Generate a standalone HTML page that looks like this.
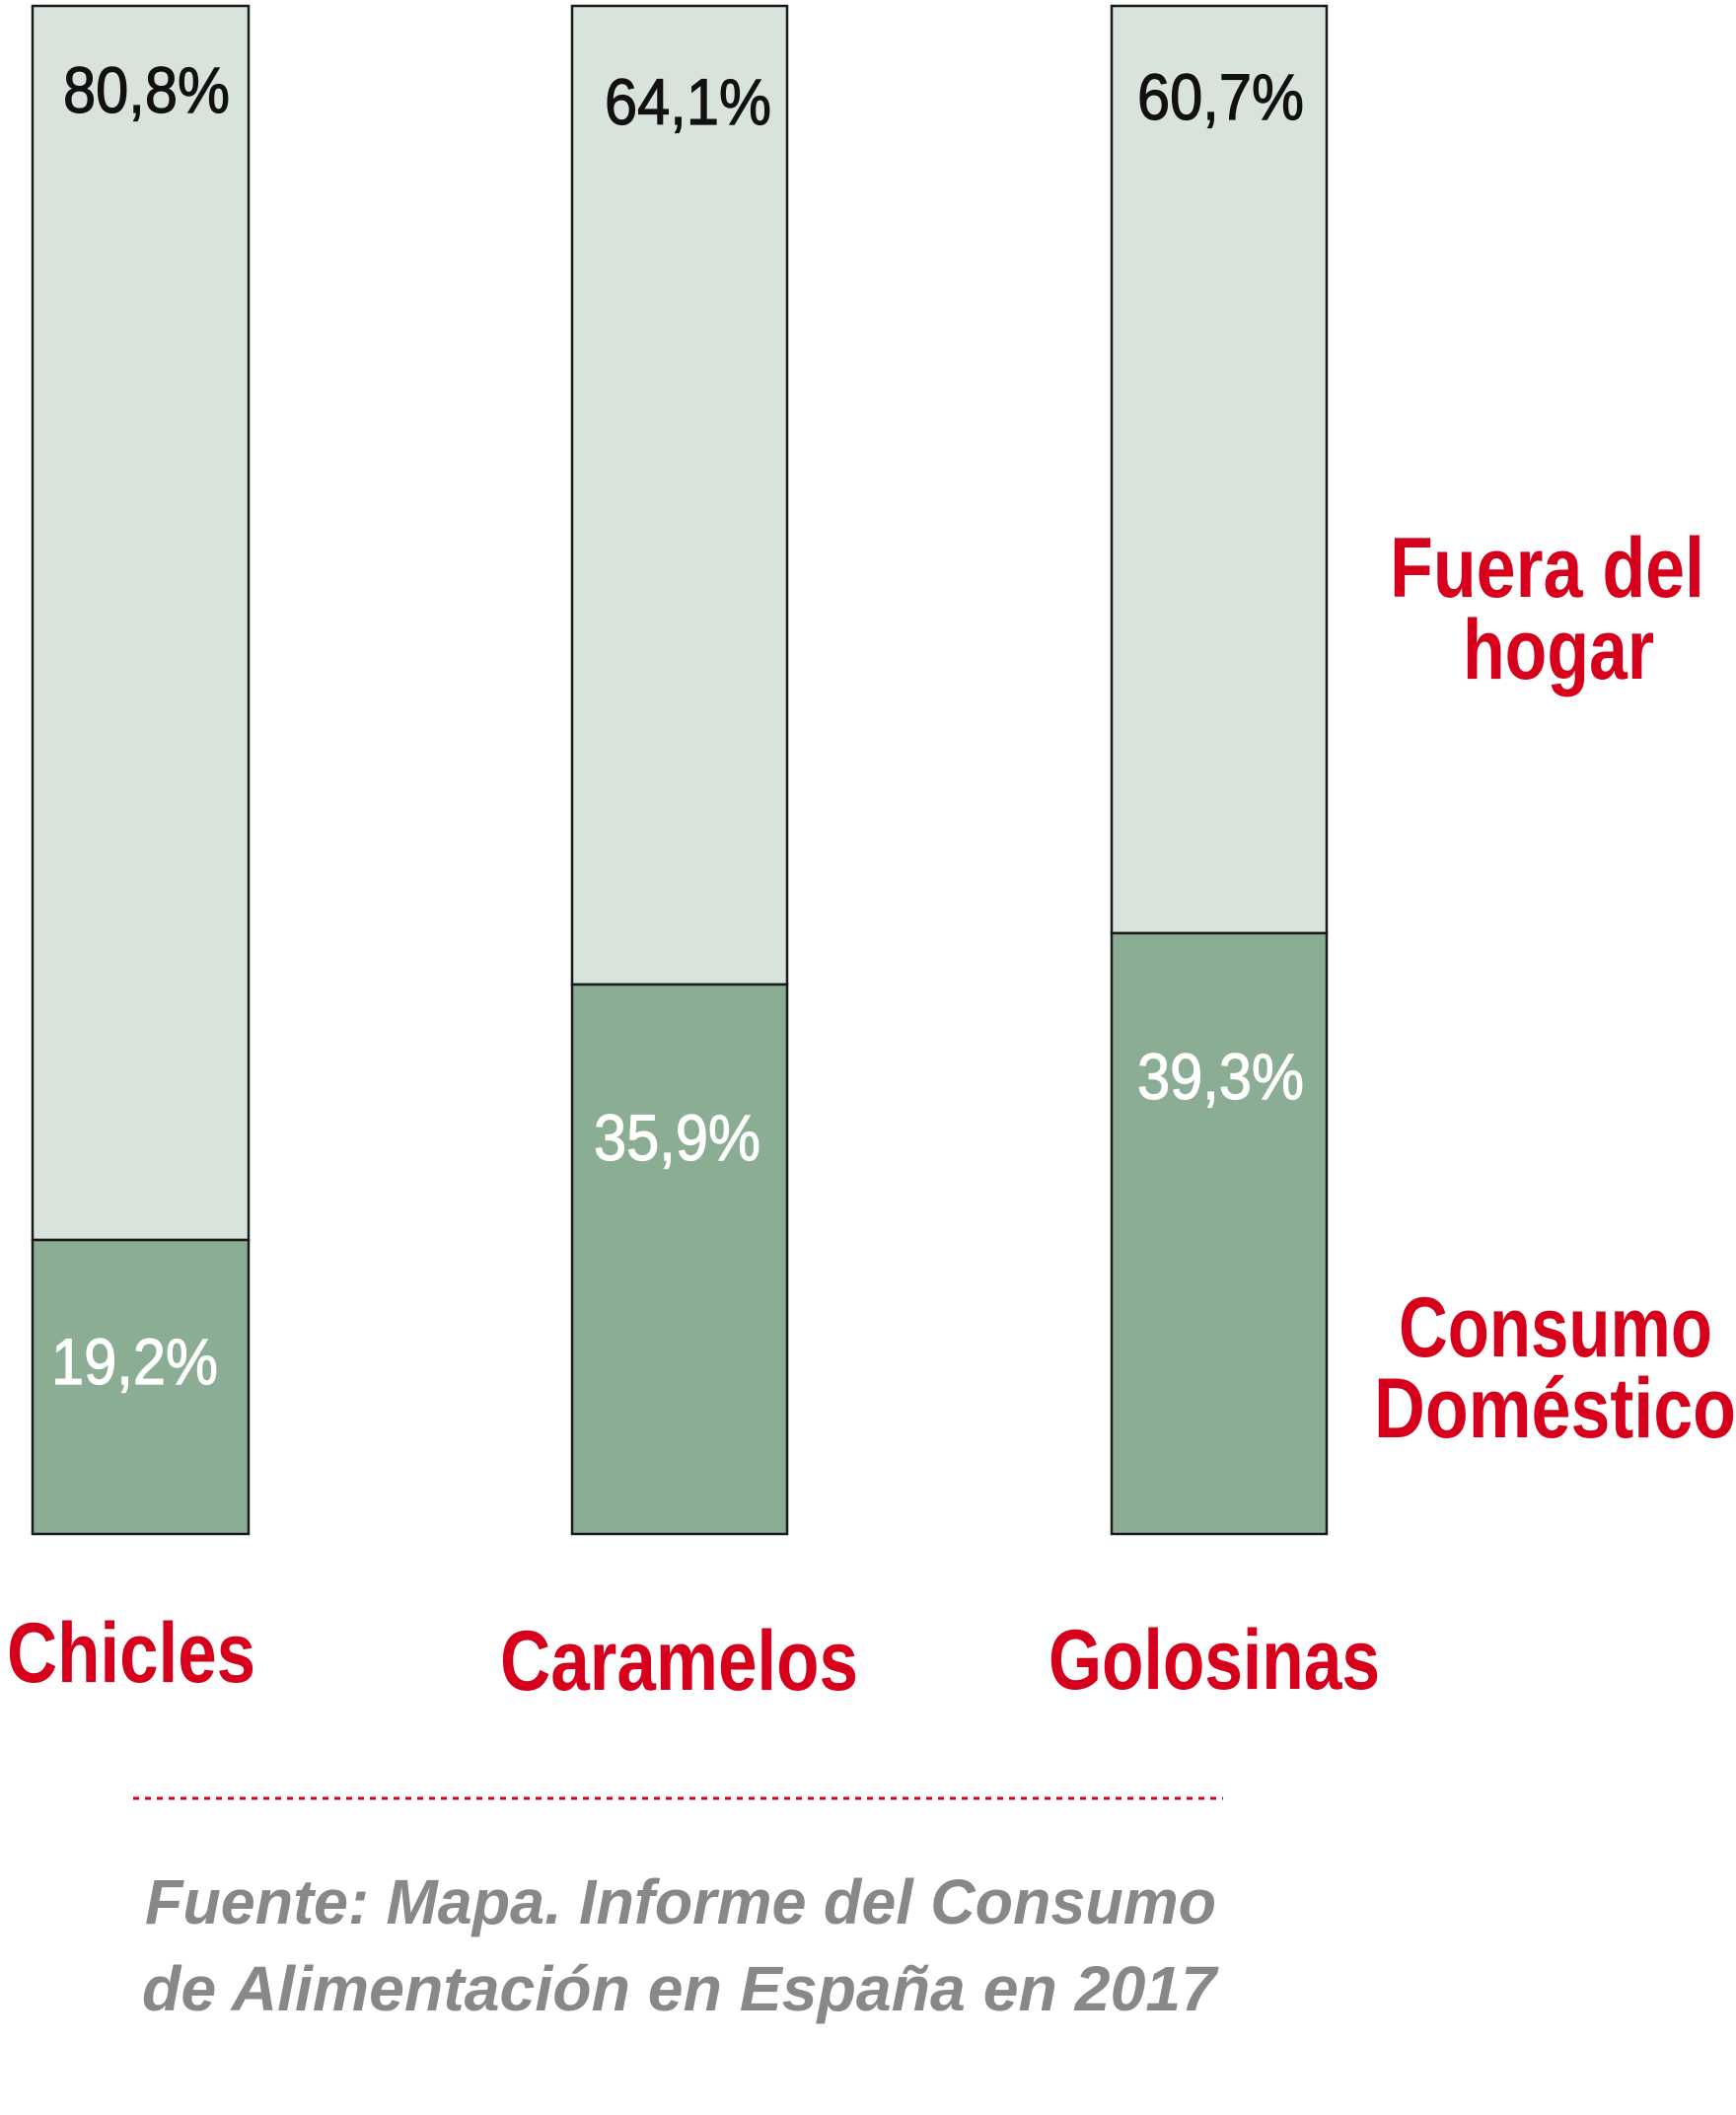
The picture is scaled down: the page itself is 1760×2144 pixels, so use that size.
<!DOCTYPE html>
<html><head><meta charset="utf-8"><style>
html,body{margin:0;padding:0;background:#fff;width:1760px;height:2144px;overflow:hidden}
svg text{font-family:"Liberation Sans",sans-serif;font-weight:bold}
</style></head><body>
<svg width="1760" height="2144" viewBox="0 0 1760 2144" xmlns="http://www.w3.org/2000/svg">
<g stroke="#1a1a1a" stroke-width="2.5">
<rect x="33" y="6" width="219" height="1251" fill="#d8e3dc"/>
<rect x="33" y="1257" width="219" height="298" fill="#8aad94"/>
<rect x="580" y="6" width="218" height="992" fill="#d8e3dc"/>
<rect x="580" y="998" width="218" height="557" fill="#8aad94"/>
<rect x="1127" y="6" width="218" height="940" fill="#d8e3dc"/>
<rect x="1127" y="946" width="218" height="609" fill="#8aad94"/>
</g>
<g font-size="66" lengthAdjust="spacingAndGlyphs">
<text x="64" y="114" fill="#111" textLength="169" lengthAdjust="spacingAndGlyphs" style="font-weight:normal" stroke="#111" stroke-width="1.2">80,8%</text>
<text x="613" y="126" fill="#111" textLength="169" lengthAdjust="spacingAndGlyphs" style="font-weight:normal" stroke="#111" stroke-width="1.2">64,1%</text>
<text x="1153" y="121" fill="#111" textLength="169" lengthAdjust="spacingAndGlyphs" style="font-weight:normal" stroke="#111" stroke-width="1.2">60,7%</text>
<text x="52" y="1403" fill="#fff" textLength="169" lengthAdjust="spacingAndGlyphs" style="font-weight:normal" stroke="#fff" stroke-width="1.2">19,2%</text>
<text x="602" y="1176" fill="#fff" textLength="169" lengthAdjust="spacingAndGlyphs" style="font-weight:normal" stroke="#fff" stroke-width="1.2">35,9%</text>
<text x="1153" y="1114" fill="#fff" textLength="169" lengthAdjust="spacingAndGlyphs" style="font-weight:normal" stroke="#fff" stroke-width="1.2">39,3%</text>
</g>
<g font-size="86" fill="#d6001c">
<text x="1409" y="605" textLength="319" lengthAdjust="spacingAndGlyphs">Fuera del</text>
<text x="1483" y="688" textLength="194" lengthAdjust="spacingAndGlyphs">hogar</text>
<text x="1418" y="1375" textLength="318" lengthAdjust="spacingAndGlyphs">Consumo</text>
<text x="1393" y="1457" textLength="367" lengthAdjust="spacingAndGlyphs">Doméstico</text>
<text x="7" y="1705" textLength="252" lengthAdjust="spacingAndGlyphs">Chicles</text>
<text x="507" y="1713" textLength="363" lengthAdjust="spacingAndGlyphs">Caramelos</text>
<text x="1063" y="1712" textLength="336" lengthAdjust="spacingAndGlyphs">Golosinas</text>
</g>
<line x1="135" y1="1823" x2="1240" y2="1823" stroke="#d6001c" stroke-width="3" stroke-dasharray="6,6"/>
<g font-size="64" fill="#888">
<text x="147" y="1950" textLength="1086" lengthAdjust="spacingAndGlyphs" style="font-weight:bold;font-style:italic">Fuente: Mapa. Informe del Consumo</text>
<text x="144" y="2038" textLength="1089" lengthAdjust="spacingAndGlyphs" style="font-weight:bold;font-style:italic">de Alimentación en España en 2017</text>
</g>
</svg>
</body></html>
